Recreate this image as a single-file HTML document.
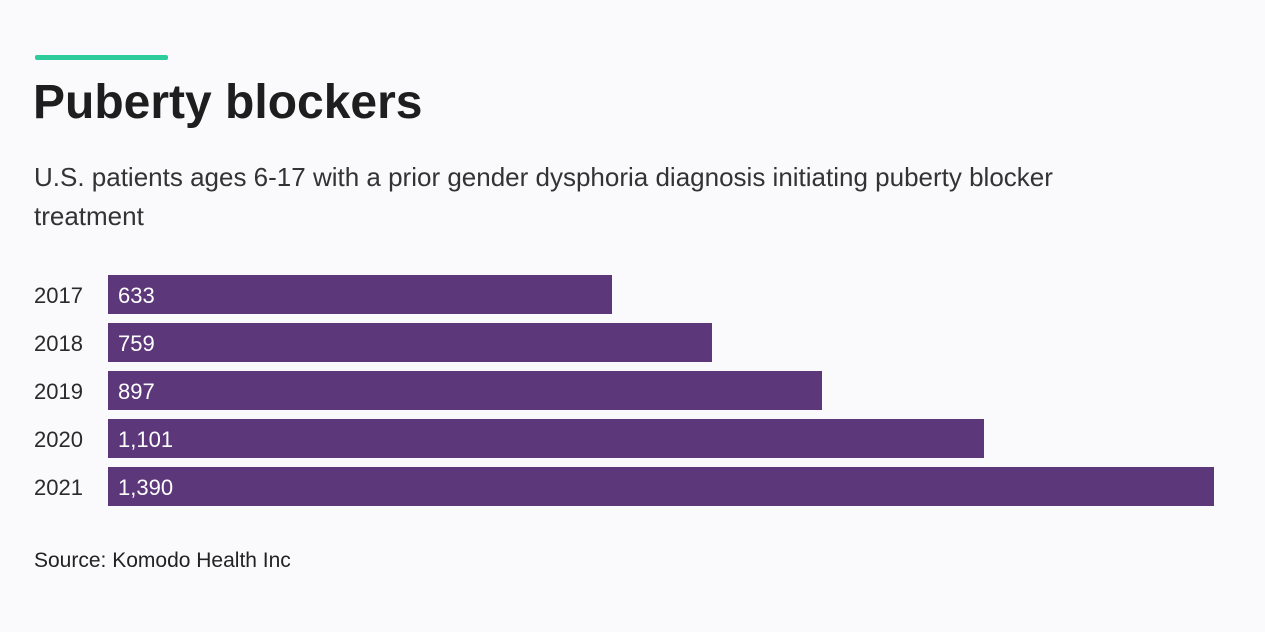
<!DOCTYPE html>
<html><head><meta charset="utf-8"><style>
body{margin:0;width:1265px;height:632px;background:#fafafc;font-family:"Liberation Sans",sans-serif;color:#1e1e1e;position:relative;overflow:hidden}
.abs{position:absolute}
.bar{position:absolute;left:108px;height:39px;background:#5c3779;color:#fff;font-size:22px;line-height:42px;padding-left:10px;box-sizing:border-box}
.yr{position:absolute;left:34px;font-size:22px;line-height:42px;color:#2a2a2a}
</style></head><body>
<div class="abs" style="left:35px;top:55px;width:133px;height:5px;background:#2ecc9a;border-radius:2px"></div>
<div class="abs" style="left:33px;top:75px;font-size:48px;font-weight:bold;color:#1e1e1e">Puberty blockers</div>
<div class="abs" style="left:34px;top:158px;width:1120px;font-size:26px;line-height:39px;color:#333">U.S. patients ages 6-17 with a prior gender dysphoria diagnosis initiating puberty blocker treatment</div>
<div class="yr" style="top:275px">2017</div><div class="bar" style="top:275px;width:504px">633</div>
<div class="yr" style="top:323px">2018</div><div class="bar" style="top:323px;width:604px">759</div>
<div class="yr" style="top:371px">2019</div><div class="bar" style="top:371px;width:714px">897</div>
<div class="yr" style="top:419px">2020</div><div class="bar" style="top:419px;width:876px">1,101</div>
<div class="yr" style="top:467px">2021</div><div class="bar" style="top:467px;width:1106px">1,390</div>
<div class="abs" style="left:34px;top:549px;font-size:21px;color:#222">Source: Komodo Health Inc</div>
</body></html>
